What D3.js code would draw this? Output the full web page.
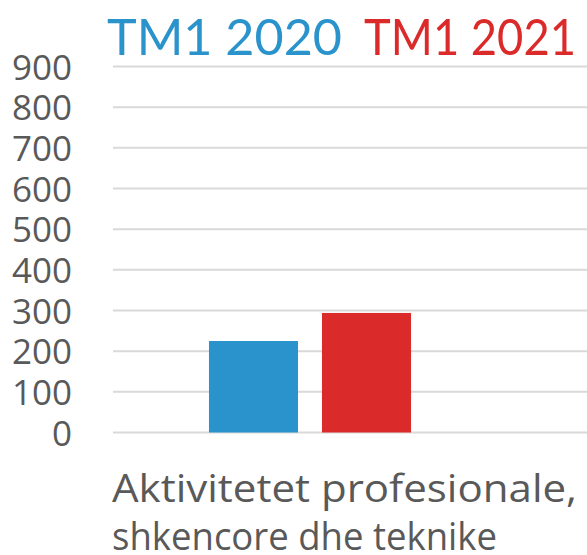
<!DOCTYPE html>
<html>
<head>
<meta charset="utf-8">
<script src="https://cdn.jsdelivr.net/npm/d3@7"></script>
<style>
  html, body { margin: 0; padding: 0; background: #fff; }
  svg { display: block; }
</style>
</head>
<body>
<div id="chart"></div>
<script>
// data
const categories = ['Aktivitetet profesionale, shkencore dhe teknike'];
const categoryLines = [['Aktivitetet profesionale,', 'shkencore dhe teknike']];
const seriesNames = ['TM1 2020', 'TM1 2021'];
const seriesColors = ['#2a93cc', '#db2a2a'];
const values2020 = [225];
const values2021 = [294];
const yTicks = [0, 100, 200, 300, 400, 500, 600, 700, 800, 900];

const width = 587;
const height = 555;
const margin = { top: 66.5, right: 0, bottom: 122.5, left: 113 };

const svg = d3.select('#chart').append('svg').attr('width', width).attr('height', height);

const y = d3.scaleLinear().domain([0, 900]).range([height - margin.bottom, margin.top]);

// outer band for category, inner band for the two series
const x0 = d3.scaleBand().domain(categories).range([margin.left, 507]).paddingInner(0).paddingOuter(0.475);
const x1 = d3.scaleBand().domain(seriesNames).range([0, x0.bandwidth()]).paddingInner(0.212).paddingOuter(0);

const rows = categories.map((c, i) => ({ category: c, values: [values2020[i], values2021[i]] }));

// gridlines
svg.append('g')
  .selectAll('line')
  .data(yTicks)
  .join('line')
  .attr('x1', margin.left)
  .attr('x2', width)
  .attr('y1', (d) => y(d))
  .attr('y2', (d) => y(d))
  .attr('stroke', '#d9d9d9')
  .attr('stroke-width', 2);

// y axis labels
svg.append('g')
  .attr('transform', `translate(72,0)`)
  .call(d3.axisLeft(y).tickValues(yTicks).tickSize(0).tickPadding(0))
  .call((g) => g.select('.domain').remove())
  .selectAll('text')
  .attr('fill', '#595959')
  .attr('dy', '0.36em')
  .style('font-family', '"Open Sans", sans-serif')
  .style('font-size', '35px');

// bars
svg.append('g')
  .selectAll('g')
  .data(rows)
  .join('g')
  .attr('transform', (d) => `translate(${x0(d.category)},0)`)
  .selectAll('rect')
  .data((d) => d.values.map((v, i) => ({ key: seriesNames[i], value: v, color: seriesColors[i] })))
  .join('rect')
  .attr('x', (d) => x1(d.key))
  .attr('width', x1.bandwidth())
  .attr('y', (d) => y(d.value))
  .attr('height', (d) => y(0) - y(d.value))
  .attr('fill', (d) => d.color);

// category label, two lines, left aligned with the plot
const lineW = [465, 385];
svg.append('g')
  .selectAll('text')
  .data(categoryLines[0])
  .join('text')
  .attr('x', margin.left - 1)
  .attr('y', (d, i) => 502 + i * 48)
  .attr('fill', '#595959')
  .attr('textLength', (d, i) => lineW[i])
  .attr('lengthAdjust', 'spacingAndGlyphs')
  .style('font-family', '"Open Sans", sans-serif')
  .style('font-size', '38px')
  .text((d) => d);

// legend as big coloured titles, fitted to the widths seen in the reference
const legendX = [107, 364];
const legendW = [235, 212];
svg.append('g')
  .selectAll('text')
  .data(seriesNames)
  .join('text')
  .attr('x', (d, i) => legendX[i])
  .attr('y', 55)
  .attr('fill', (d, i) => seriesColors[i])
  .attr('textLength', (d, i) => legendW[i])
  .attr('lengthAdjust', 'spacingAndGlyphs')
  .style('font-family', 'Lato, sans-serif')
  .style('font-size', '51px')
  .text((d) => d);
</script>
</body>
</html>
